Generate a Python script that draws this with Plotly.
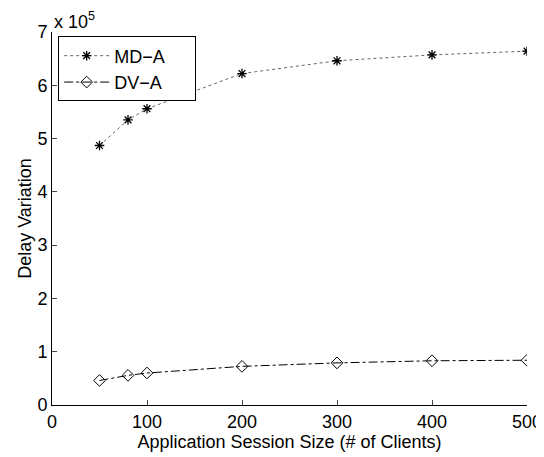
import plotly.graph_objects as go

sizes = [50, 80, 100, 200, 300, 400, 500]
md_a = [4.87, 5.35, 5.56, 6.22, 6.46, 6.57, 6.64]   # x 10^5
dv_a = [0.46, 0.556, 0.60, 0.725, 0.79, 0.83, 0.84]  # x 10^5
x_ticks = [0, 100, 200, 300, 400, 500]
y_ticks = [0, 1, 2, 3, 4, 5, 6, 7]

font = "Liberation Sans, Arial, Helvetica, sans-serif"
pad = "\u00a0" * 5

fig = go.Figure()
fig.add_trace(go.Scatter(
    x=sizes, y=md_a, name="MD\u2212A" + pad, mode="lines+markers",
    line=dict(color="#666666", width=1, dash="dot"),
    marker=dict(symbol="asterisk-open", size=8, color="black", line=dict(width=1.3, color="black")),
))
fig.add_trace(go.Scatter(
    x=sizes, y=dv_a, name="DV\u2212A" + pad, mode="lines+markers",
    line=dict(color="black", width=1, dash="dashdot"),
    marker=dict(symbol="diamond-open", size=9, color="black", line=dict(width=1, color="black")),
))

fig.update_layout(
    width=536, height=449,
    margin=dict(l=44, r=17, t=24, b=52, autoexpand=False),
    paper_bgcolor="white", plot_bgcolor="white",
    font=dict(family=font, size=18, color="black"),
    showlegend=True,
    legend=dict(x=0.013, y=0.988, xanchor="left", yanchor="top",
                bordercolor="black", borderwidth=1, bgcolor="white",
                font=dict(size=18), tracegroupgap=0, itemwidth=45),
    xaxis=dict(range=[0, 500], tickvals=x_ticks, ticks="inside", ticklen=5,
               showline=True, linecolor="black", linewidth=1, showgrid=False, zeroline=False,
               automargin=False,
               title=dict(text="Application Session Size (# of Clients)", standoff=0, font=dict(size=18)),
               tickfont=dict(size=18)),
    yaxis=dict(range=[0, 7], tickvals=y_ticks, ticks="inside", ticklen=5,
               showline=True, linecolor="black", linewidth=1, showgrid=False, zeroline=False,
               automargin=False,
               title=dict(text="Delay Variation", standoff=1, font=dict(size=18)),
               tickfont=dict(size=18)),
    annotations=[dict(text="x 10<sup>5</sup>", xref="paper", yref="paper", x=0.0, y=1.0,
                      xanchor="left", yanchor="bottom", showarrow=False, font=dict(size=18),
                      yshift=-2)],
)

fig.write_html("out.html")
